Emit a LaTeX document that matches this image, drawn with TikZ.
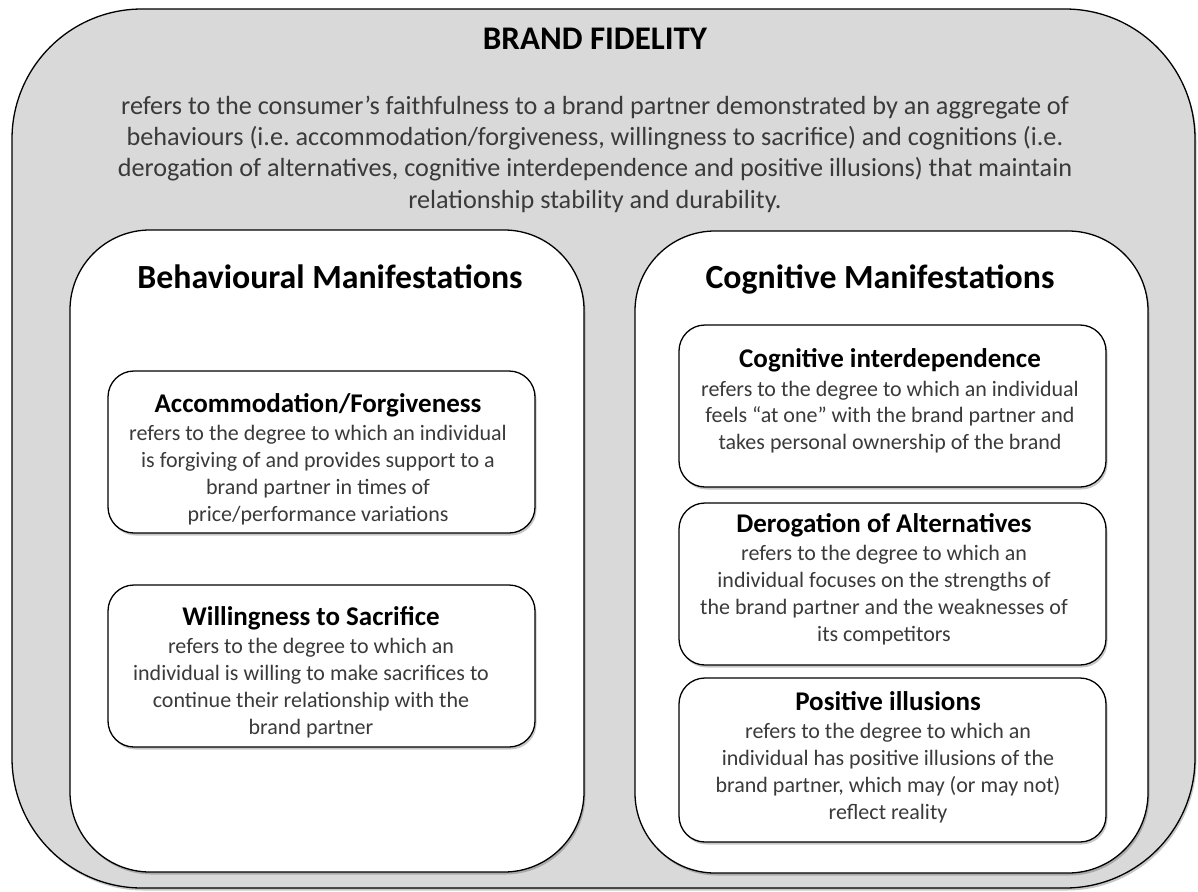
\documentclass[tikz,border=0pt]{standalone}
\usepackage{fontspec}
\setmainfont{Carlito}
\usetikzlibrary{shadows}
\definecolor{panelgray}{HTML}{D9D9D9}
\definecolor{bodytext}{HTML}{3A3A3A}
\frenchspacing
\begin{document}
\begin{tikzpicture}[x=1pt,y=-1pt,
  panel/.style={draw=black, line width=1.3pt, rounded corners=#1,
    drop shadow={shadow xshift=1.5pt, shadow yshift=-2.5pt, opacity=0.22, fill=black}},
  frame/.style={panel=#1, fill=white},
  defbox/.style={panel=26pt, fill=white},
  heading/.style={anchor=base, inner sep=0pt, text=black,
    font={\fontsize{33.8}{40}\selectfont\bfseries}},
  boxtext/.style={align=center, text=bodytext, inner sep=0pt,
    font={\fontsize{22}{26.8}\selectfont}}
]
\useasboundingbox (0,0) rectangle (1198,891);
\newcommand{\boxtitle}[1]{{\fontsize{27}{26.8}\selectfont\bfseries\color{black}#1}\\[1.5pt]}

% outer panel
\path[panel=130pt, fill=panelgray] (12,9) rectangle (1195,888);
\node[anchor=base, inner sep=0pt, font={\fontsize{33}{38}\selectfont\bfseries}] (title) at (595,50) {BRAND FIDELITY};
\node[align=center, text=bodytext, inner sep=0pt, font={\fontsize{26.2}{31.3}\selectfont}] (definition) at (595,154)
  {refers to the consumer’s faithfulness to a brand partner demonstrated by an aggregate of\\
   behaviours (i.e. accommodation/forgiveness, willingness to sacrifice) and cognitions (i.e.\\
   derogation of alternatives, cognitive interdependence and positive illusions) that maintain\\
   relationship stability and durability.};

% two manifestation frames
\path[frame=80pt] (70,230) rectangle (584,872);
\path[frame=80pt] (635,231) rectangle (1148,873);
\node[heading] (behav) at (330,288) {Behavioural Manifestations};
\node[heading] (cogn) at (880,288) {Cognitive Manifestations};

% behavioural definitions
\path[defbox] (108,371) rectangle (535,533);
\node[boxtext] (accom) at (318,459)
  {\boxtitle{Accommodation/Forgiveness}
   refers to the degree to which an individual\\
   is forgiving of and provides support to a\\
   brand partner in times of\\
   price/performance variations};

\path[defbox] (108,585) rectangle (535,747);
\node[boxtext] (sacrifice) at (311,672)
  {\boxtitle{Willingness to Sacrifice}
   refers to the degree to which an\\
   individual is willing to make sacrifices to\\
   continue their relationship with the\\
   brand partner};

% cognitive definitions
\path[defbox] (679,325) rectangle (1106,487);
\node[boxtext] (interdep) at (890,401)
  {\boxtitle{Cognitive interdependence}
   refers to the degree to which an individual\\
   feels “at one” with the brand partner and\\
   takes personal ownership of the brand};

\path[defbox] (679,503) rectangle (1106,665);
\node[boxtext] (derog) at (884,579)
  {\boxtitle{Derogation of Alternatives}
   refers to the degree to which an\\
   individual focuses on the strengths of\\
   the brand partner and the weaknesses of\\
   its competitors};

\path[defbox] (679,678) rectangle (1106,842);
\node[boxtext] (illusions) at (888,757)
  {\boxtitle{Positive illusions}
   refers to the degree to which an\\
   individual has positive illusions of the\\
   brand partner, which may (or may not)\\
   reflect reality};
\end{tikzpicture}
\end{document}
